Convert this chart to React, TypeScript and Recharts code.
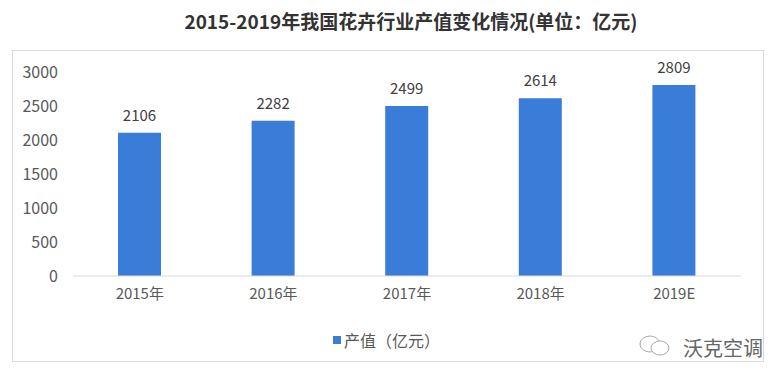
import React from 'react';
import { BarChart, Bar, XAxis, YAxis, LabelList } from 'recharts';

const categories = ['2015年', '2016年', '2017年', '2018年', '2019E'];
const values = [2106, 2282, 2499, 2614, 2809];
const yTicks = [0, 500, 1000, 1500, 2000, 2500, 3000];
const seriesName = '产值（亿元）';
const title = '2015-2019年我国花卉行业产值变化情况(单位：亿元)';

const data = categories.map((c, i) => ({ name: c, value: values[i] }));

const FONT = '"Microsoft YaHei", "Noto Sans CJK SC", "Noto Sans", sans-serif';
const BLUE = '#3a7dd8';

export default function App() {
  return (
    <div style={{ position: 'absolute', left: 0, top: 0, width: 779, height: 379, background: '#fff', fontFamily: FONT }}>
      <div
        style={{
          position: 'absolute',
          left: 12,
          top: 50,
          width: 750,
          height: 310,
          border: '1px solid #d9d9d9',
        }}
      />
      <div
        style={{
          position: 'absolute',
          left: 0,
          top: 7,
          width: 822,
          textAlign: 'center',
          fontSize: 19,
          fontWeight: 'bold',
          color: '#333',
          whiteSpace: 'nowrap',
        }}
      >
        {title}
      </div>
      <div style={{ position: 'absolute', left: 0, top: 0 }}>
        <BarChart width={779} height={379} data={data} margin={{ top: 72, right: 38, bottom: 73, left: 13 }}>
          <XAxis
            dataKey="name"
            height={30}
            axisLine={{ stroke: '#d9d9d9' }}
            tickLine={false}
            tickSize={0}
            tickMargin={12}
            tick={{ fill: '#595959', fontSize: 15, fontFamily: FONT }}
          />
          <YAxis
            width={60}
            domain={[0, 3000]}
            ticks={yTicks}
            axisLine={false}
            tickLine={false}
            tickSize={0}
            tickMargin={15}
            tick={{ fill: '#595959', fontSize: 16, fontFamily: FONT }}
          />
          <Bar dataKey="value" name={seriesName} fill={BLUE} barSize={43} isAnimationActive={false}>
            <LabelList dataKey="value" position="top" offset={12} fill="#404040" fontSize={15} fontFamily={FONT} />
          </Bar>
        </BarChart>
      </div>
      <div
        style={{
          position: 'absolute',
          left: 333,
          top: 328,
          display: 'flex',
          alignItems: 'center',
          fontSize: 16,
          color: '#595959',
          whiteSpace: 'nowrap',
        }}
      >
        <span style={{ display: 'inline-block', width: 8, height: 8, background: BLUE, marginRight: 3 }} />
        <span>{seriesName}</span>
      </div>
      <svg style={{ position: 'absolute', left: 638, top: 333 }} width={36} height={26}>
        <ellipse cx={12} cy={11} rx={10} ry={8} fill="none" stroke="#aaa" strokeWidth={1} />
        <ellipse cx={22} cy={15} rx={9} ry={7} fill="#fff" stroke="#aaa" strokeWidth={1} />
      </svg>
      <div
        style={{
          position: 'absolute',
          left: 683,
          top: 333,
          fontSize: 20,
          color: '#666',
          whiteSpace: 'nowrap',
        }}
      >
        沃克空调
      </div>
    </div>
  );
}
